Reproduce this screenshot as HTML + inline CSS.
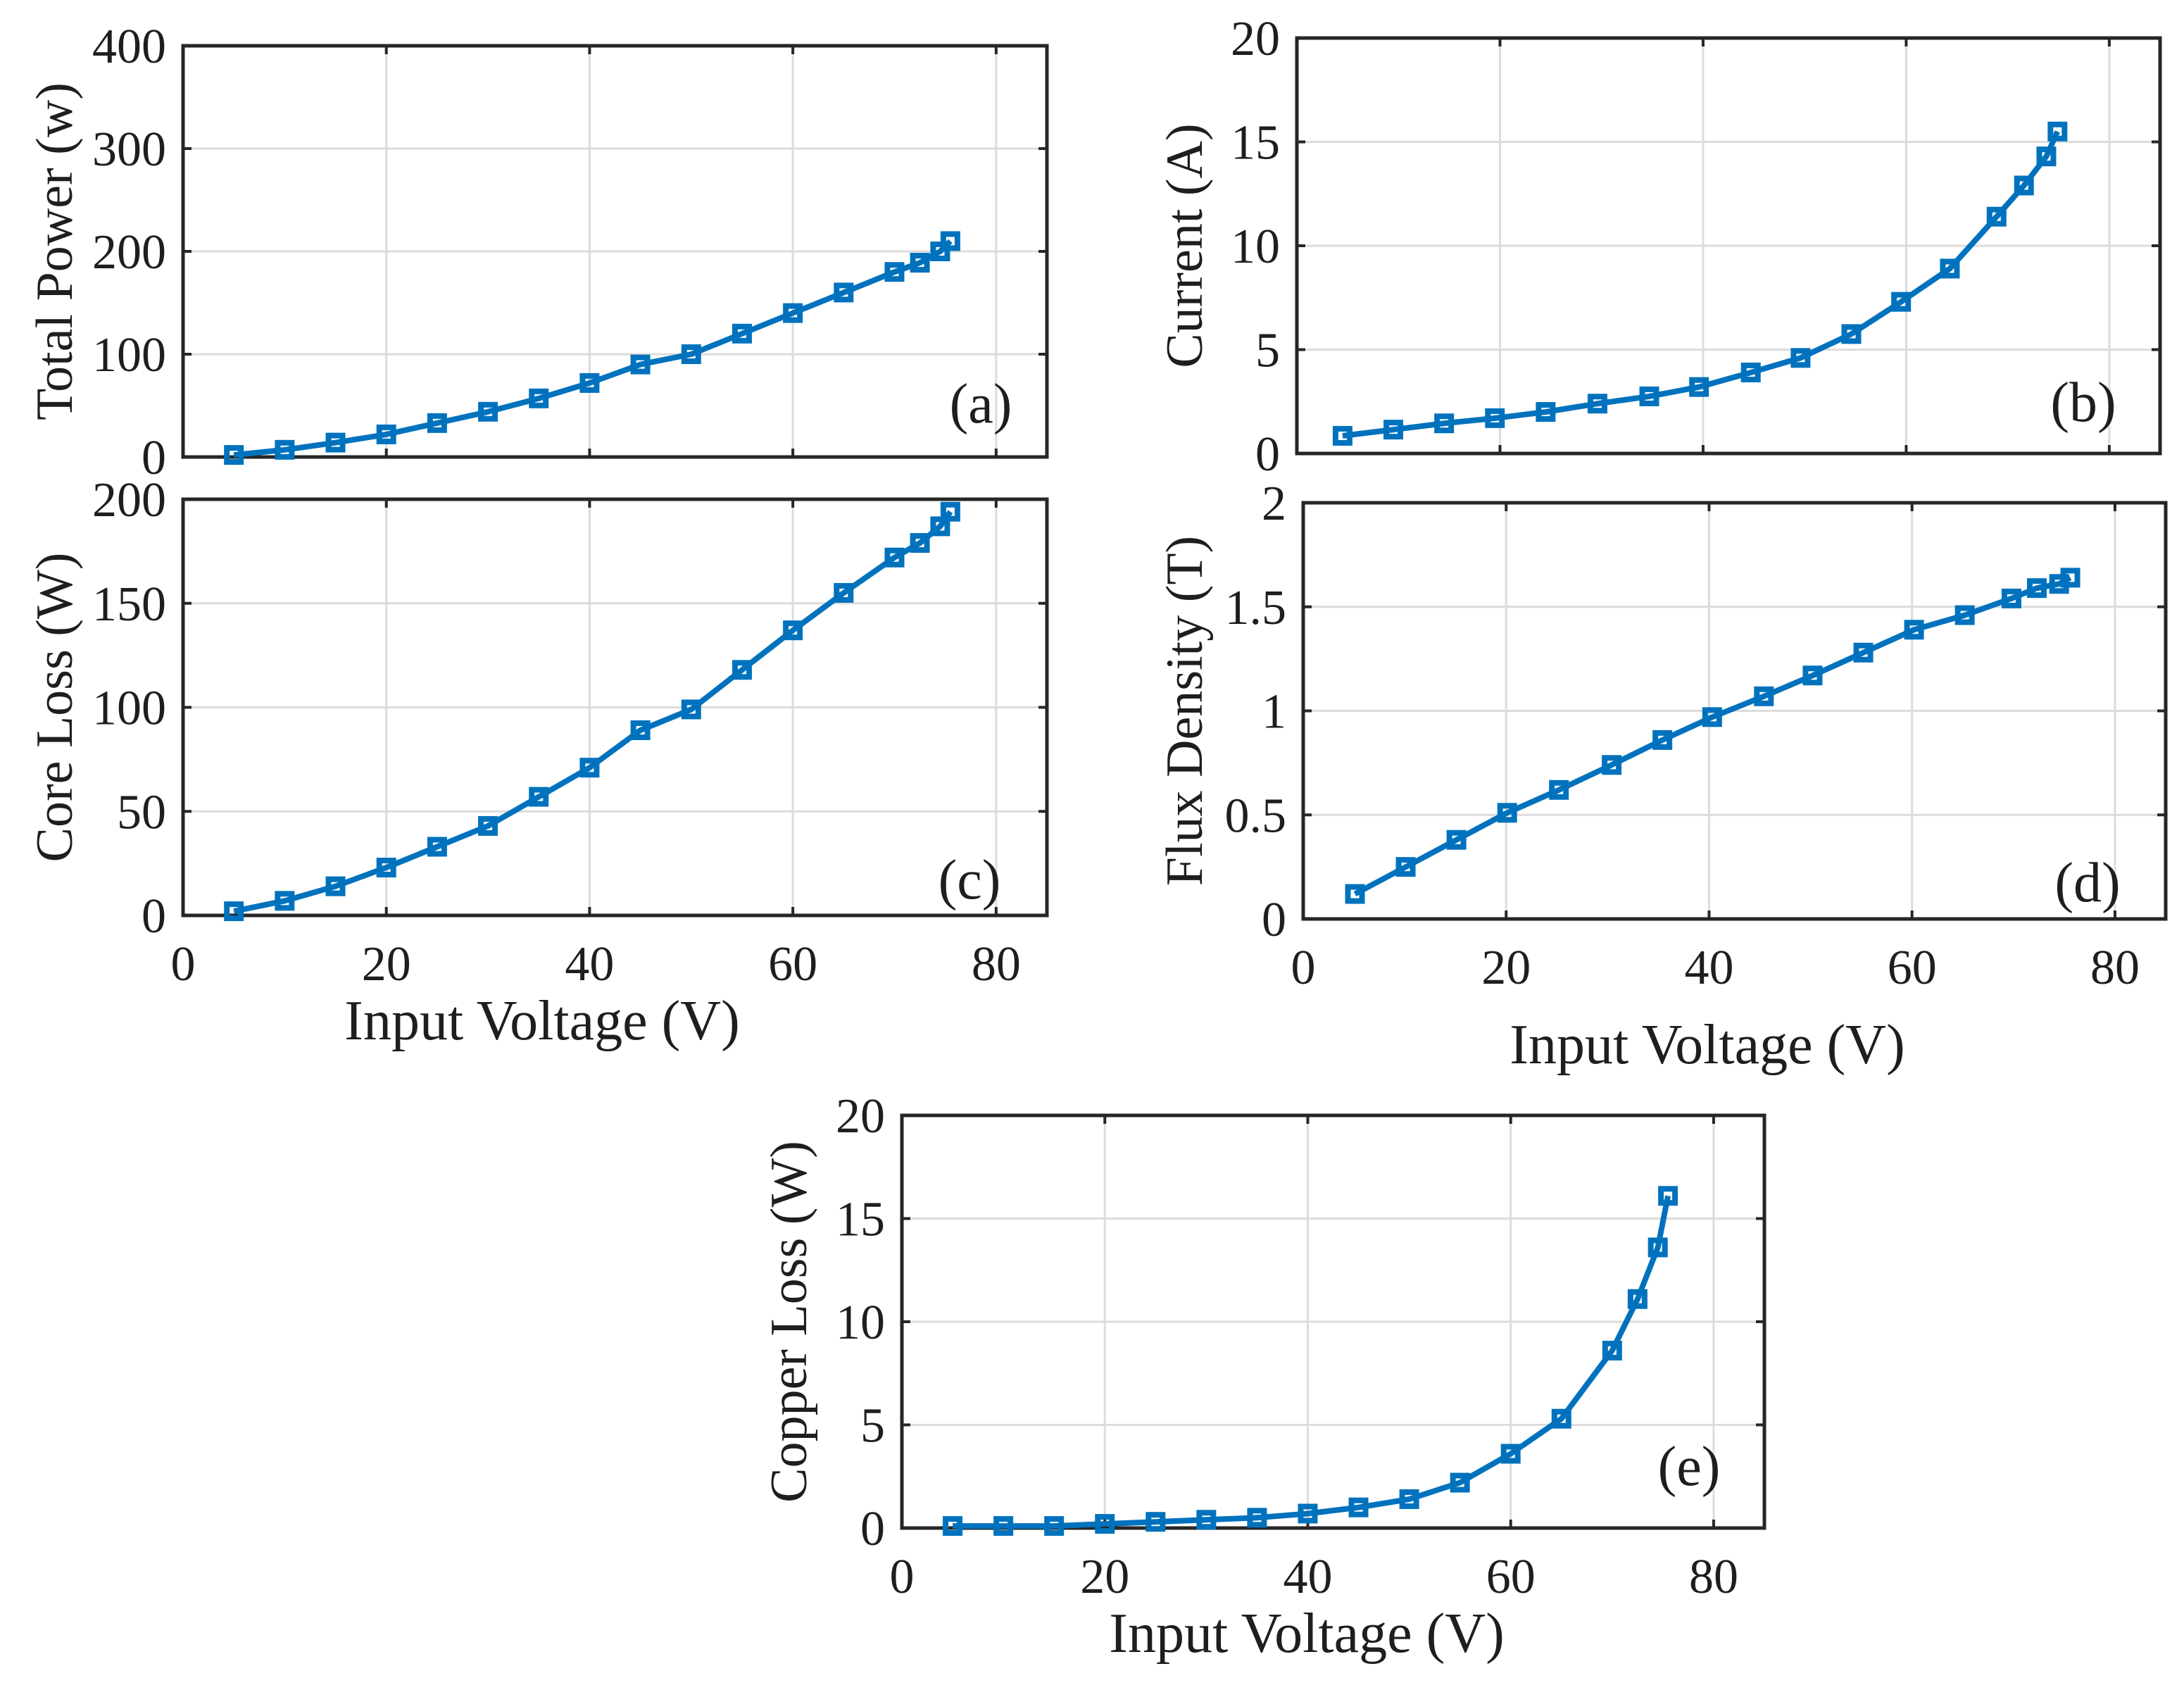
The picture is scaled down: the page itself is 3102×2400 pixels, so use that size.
<!DOCTYPE html>
<html>
<head>
<meta charset="utf-8">
<style>
  html, body { margin: 0; padding: 0; background: #fff; }
  svg { display: block; }
  text { font-family: "Liberation Serif", serif; fill: #1e1e1e; }
</style>
</head>
<body>
<svg id="fig" width="3102" height="2400" viewBox="0 0 3102 2400" xmlns="http://www.w3.org/2000/svg"></svg>
<script>
// ---- data ----
const xA = [5,10,15,20,25,30,35,40,45,50,55,60,65,70,72.5,74.5,75.5];
const powerVals = [2,7,14,22,33,44,57,72,90,100,120,140,160,180,189,200,210];
const coreVals = [2,7,14,23,33,43,57,71,89,99,118,137,155,172,179,187,194];
const xB = [4.5,9.5,14.5,19.5,24.5,29.6,34.7,39.6,44.7,49.6,54.6,59.5,64.3,68.9,71.6,73.8,74.9];
const currentVals = [0.85,1.15,1.45,1.7,2.0,2.4,2.75,3.2,3.9,4.6,5.75,7.3,8.9,11.4,12.9,14.3,15.5];
const xD = [5.1,10.1,15.1,20.1,25.2,30.4,35.4,40.3,45.4,50.2,55.2,60.2,65.2,69.8,72.3,74.5,75.6];
const fluxVals = [0.12,0.25,0.38,0.51,0.62,0.74,0.86,0.97,1.07,1.17,1.28,1.39,1.46,1.54,1.59,1.61,1.64];
const copperVals = [0.1,0.1,0.1,0.2,0.3,0.4,0.5,0.7,1.0,1.4,2.2,3.6,5.3,8.6,11.1,13.6,16.1];
const xTicks = [0,20,40,60,80];
const powerTicks = [0,100,200,300,400];
const coreTicks = [0,50,100,150,200];
const currentTicks = [0,5,10,15,20];
const fluxTicks = [0,0.5,1,1.5,2];
const fluxTickLabels = ["0","0.5","1","1.5","2"];
const copperTicks = [0,5,10,15,20];

const NS = "http://www.w3.org/2000/svg";
const svg = document.getElementById('fig');
function mk(tag, attrs, parent) {
  const e = document.createElementNS(NS, tag);
  for (const k in attrs) e.setAttribute(k, attrs[k]);
  (parent || svg).appendChild(e);
  return e;
}

const panels = [
  {id:'a', L:260, R:1487, T:65, B:649, ymax:400, xs:xA, ys:powerVals, yt:powerTicks, ytl:null, ylabel:'Total Power (w)', ylx:78, showX:false, tag:'(a)', tx:1393, ty:574},
  {id:'c', L:260, R:1487, T:709, B:1300, ymax:200, xs:xA, ys:coreVals, yt:coreTicks, ytl:null, ylabel:'Core Loss (W)', ylx:78, showX:true, xlx:770, xly:1450, tag:'(c)', tx:1377, ty:1250},
  {id:'b', L:1842, R:3068, T:54, B:644, ymax:20, xs:xB, ys:currentVals, yt:currentTicks, ytl:null, ylabel:'Current (A)', ylx:1683, showX:false, tag:'(b)', tx:2959, ty:572},
  {id:'d', L:1851, R:3076, T:714, B:1305, ymax:2, xs:xD, ys:fluxVals, yt:fluxTicks, ytl:fluxTickLabels, ylabel:'Flux Density (T)', ylx:1683, showX:true, xlx:2425, xly:1484, tag:'(d)', tx:2965, ty:1254},
  {id:'e', L:1281, R:2506, T:1584, B:2170, ymax:20, xs:xA, ys:copperVals, yt:copperTicks, ytl:null, ylabel:'Copper Loss (W)', ylx:1121, showX:true, xlx:1856, xly:2320, tag:'(e)', tx:2399, ty:2083}
];

panels.forEach(p => {
  const g = mk('g', {});
  
  
  const xs = v => p.L + (v / 85) * (p.R - p.L);
  const ys = v => p.B - (v / p.ymax) * (p.B - p.T);

  xTicks.forEach(t => {
    const l = mk('line', {x1:xs(t), x2:xs(t), y1:p.T, y2:p.B, stroke:'#dcdcdc', 'stroke-width':3}, g);
    
    
  });
  p.yt.forEach(t => {
    const l = mk('line', {x1:p.L, x2:p.R, y1:ys(t), y2:ys(t), stroke:'#dcdcdc', 'stroke-width':3}, g);
    
    
  });
  xTicks.forEach(t => {
    mk('line', {x1:xs(t), x2:xs(t), y1:p.B, y2:p.B-12, stroke:'#262626', 'stroke-width':4}, g);
    mk('line', {x1:xs(t), x2:xs(t), y1:p.T, y2:p.T+12, stroke:'#262626', 'stroke-width':4}, g);
    if (p.showX) {
      const tx = mk('text', {x:xs(t), y:p.B+92, 'font-size':70, 'text-anchor':'middle'}, g);
      tx.textContent = String(t);
      
      
    }
  });
  p.yt.forEach((t, i) => {
    mk('line', {x1:p.L, x2:p.L+12, y1:ys(t), y2:ys(t), stroke:'#262626', 'stroke-width':4}, g);
    mk('line', {x1:p.R, x2:p.R-12, y1:ys(t), y2:ys(t), stroke:'#262626', 'stroke-width':4}, g);
    const tx = mk('text', {x:p.L-24, y:ys(t)+24, 'font-size':70, 'text-anchor':'end'}, g);
    tx.textContent = p.ytl ? p.ytl[i] : String(t);
    
    
  });
  const box = mk('rect', {x:p.L, y:p.T, width:p.R-p.L, height:p.B-p.T, fill:'none', stroke:'#262626', 'stroke-width':5}, g);
  
  

  const pts = p.xs.map((x, i) => xs(x).toFixed(1) + ',' + ys(p.ys[i]).toFixed(1)).join(' ');
  const pl = mk('polyline', {points:pts, fill:'none', stroke:'#0072BD', 'stroke-width':8, 'stroke-linejoin':'round'}, g);
  
  
  p.xs.forEach((x, i) => {
    const m = mk('rect', {x:xs(x)-10, y:ys(p.ys[i])-10, width:20, height:20, fill:'none', stroke:'#0072BD', 'stroke-width':8}, g);
    
    
  });

  const cy = (p.T + p.B) / 2;
  const yl = mk('text', {x:p.ylx, y:cy, 'font-size':74, 'text-anchor':'middle', 'dominant-baseline':'central', transform:`rotate(-90 ${p.ylx} ${cy})`}, g);
  yl.textContent = p.ylabel;
  
  
  if (p.showX) {
    const xl = mk('text', {x:p.xlx, y:p.xly, 'font-size':80, 'text-anchor':'middle', 'dominant-baseline':'central'}, g);
    xl.textContent = 'Input Voltage (V)';
    
    
  }
  const tg = mk('text', {x:p.tx, y:p.ty, 'font-size':80, 'text-anchor':'middle', 'dominant-baseline':'central'}, g);
  tg.textContent = p.tag;
  
  
});
</script>
</body>
</html>
